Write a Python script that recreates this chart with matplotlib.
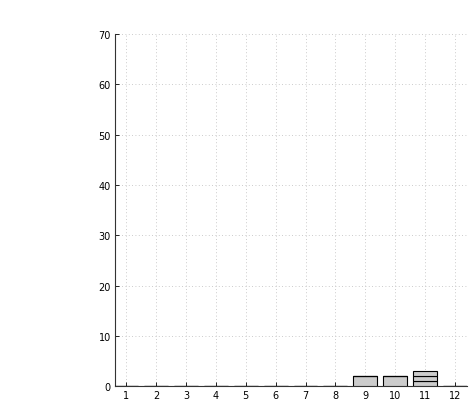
import matplotlib
matplotlib.use("Agg")
import matplotlib.pyplot as plt
import numpy as np

categories = [1, 2, 3, 4, 5, 6, 7, 8, 9, 10, 11, 12]
series1 = [0, 0, 0, 0, 0, 0, 0, 0, 2, 2, 1, 0]
series2 = [0, 0, 0, 0, 0, 0, 0, 0, 0, 0, 1, 0]
series3 = [0, 0, 0, 0, 0, 0, 0, 0, 0, 0, 1, 0]
yticks = [0, 10, 20, 30, 40, 50, 60, 70]

fig = plt.figure(figsize=(4.73, 4.02), dpi=100)
ax = fig.add_axes([0.243, 0.037, 0.744, 0.876])

bottom = np.zeros(len(categories))
for s in (series1, series2, series3):
    ax.bar(categories, s, width=0.8, bottom=bottom, color='#cccccc',
           edgecolor='black', linewidth=0.8, zorder=3)
    bottom = bottom + np.array(s)

ax.set_xlim(0.62, 12.4)
ax.set_ylim(0, 70)
ax.set_xticks(categories)
ax.set_yticks(yticks)
ax.tick_params(labelsize=7, length=3, width=0.6, direction='in', pad=3)
ax.grid(True, linestyle=(0, (1, 3)), color='#bbbbbb', linewidth=0.6, zorder=0)
for side in ('top', 'right'):
    ax.spines[side].set_visible(False)
for side in ('left', 'bottom'):
    ax.spines[side].set_linewidth(0.8)
    ax.spines[side].set_color('#333333')

fig.savefig("out.png", dpi=100)
